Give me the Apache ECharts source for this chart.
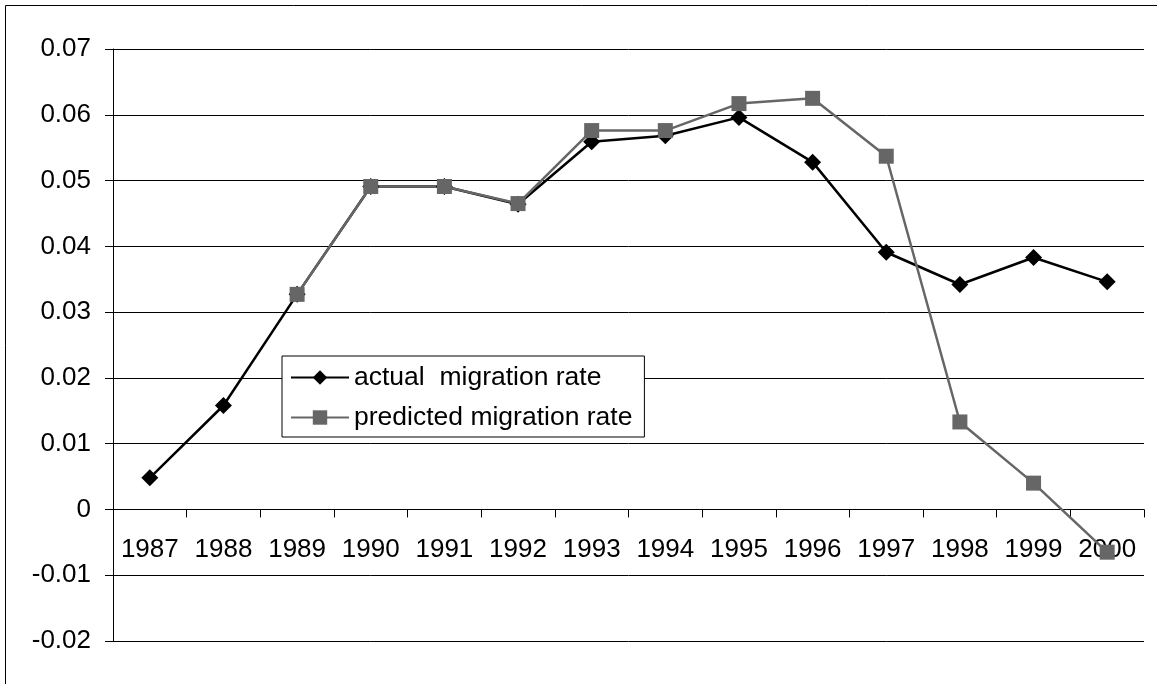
<!DOCTYPE html>
<html>
<head>
<meta charset="UTF-8">
<title>migration rate</title>
<script src="https://cdn.jsdelivr.net/npm/echarts@6/dist/echarts.min.js"></script>
<style>
  body { margin: 0; background: #fff; }
  #chart { width: 1157px; height: 684px; }
</style>
</head>
<body>
<div id="chart"></div>
<script>
// data
const years = ['1987', '1988', '1989', '1990', '1991', '1992', '1993',
               '1994', '1995', '1996', '1997', '1998', '1999', '2000'];
const actual = [0.0048, 0.0158, 0.0327, 0.0491, 0.0491, 0.0464, 0.0559,
                0.0568, 0.0596, 0.0528, 0.0391, 0.0342, 0.0383, 0.0346];
const predicted = [null, null, 0.0327, 0.0491, 0.0491, 0.0465, 0.0576,
                   0.0576, 0.0617, 0.0625, 0.0537, 0.0133, 0.0040, -0.0065];

const yMin = -0.02, yMax = 0.07;

const chart = echarts.init(document.getElementById('chart'));
const font = 'Liberation Sans, Arial, sans-serif';

const gridTop = 49, gridBottom = 43;
const plotH = 684 - gridTop - gridBottom;
// x axis sits on the zero line, lift it up from the grid bottom
const zeroLift = plotH * (0 - yMin) / (yMax - yMin);

chart.setOption({
  backgroundColor: '#fff',
  animation: false,
  textStyle: { fontFamily: font },
  graphic: [{
    type: 'rect',
    shape: { x: 5.5, y: 5.5, width: 1170, height: 700 },
    style: { fill: 'none', stroke: '#000', lineWidth: 1 },
    z: -1
  }],
  grid: { left: 113, right: 13, top: gridTop, bottom: gridBottom },
  legend: {
    orient: 'vertical',
    left: 282, top: 356,
    padding: [8, 12, 6, 8],
    itemGap: 13,
    itemWidth: 58,
    itemHeight: 18,
    backgroundColor: '#fff',
    borderColor: '#000',
    borderWidth: 1,
    textStyle: { fontSize: 26.5, color: '#000', fontFamily: font },
    data: ['actual  migration rate', 'predicted migration rate']
  },
  xAxis: {
    type: 'category',
    data: years,
    boundaryGap: true,
    offset: -zeroLift,
    axisLine: { onZero: false, lineStyle: { color: '#000', width: 1 } },
    axisTick: { show: true, length: 8, lineStyle: { color: '#000' } },
    axisLabel: { fontSize: 26, color: '#000', margin: 27, interval: 0 },
    splitLine: { show: false }
  },
  yAxis: {
    type: 'value',
    min: yMin, max: yMax, interval: 0.01,
    axisLine: { show: true, lineStyle: { color: '#000', width: 1 } },
    axisTick: { show: true, length: 8, lineStyle: { color: '#000' } },
    axisLabel: {
      fontSize: 26, color: '#000', margin: 22,
      formatter: v => Math.abs(v) < 1e-9 ? '0' : v.toFixed(2)
    },
    splitLine: { lineStyle: { color: '#000', width: 1 } }
  },
  series: [
    {
      name: 'actual  migration rate',
      type: 'line',
      data: actual,
      symbol: 'diamond',
      symbolSize: 17,
      lineStyle: { color: '#000', width: 2.5 },
      itemStyle: { color: '#000' }
    },
    {
      name: 'predicted migration rate',
      type: 'line',
      data: predicted,
      symbol: 'rect',
      symbolSize: 15,
      lineStyle: { color: '#666', width: 2.5 },
      itemStyle: { color: '#666' }
    }
  ]
});
</script>
</body>
</html>
